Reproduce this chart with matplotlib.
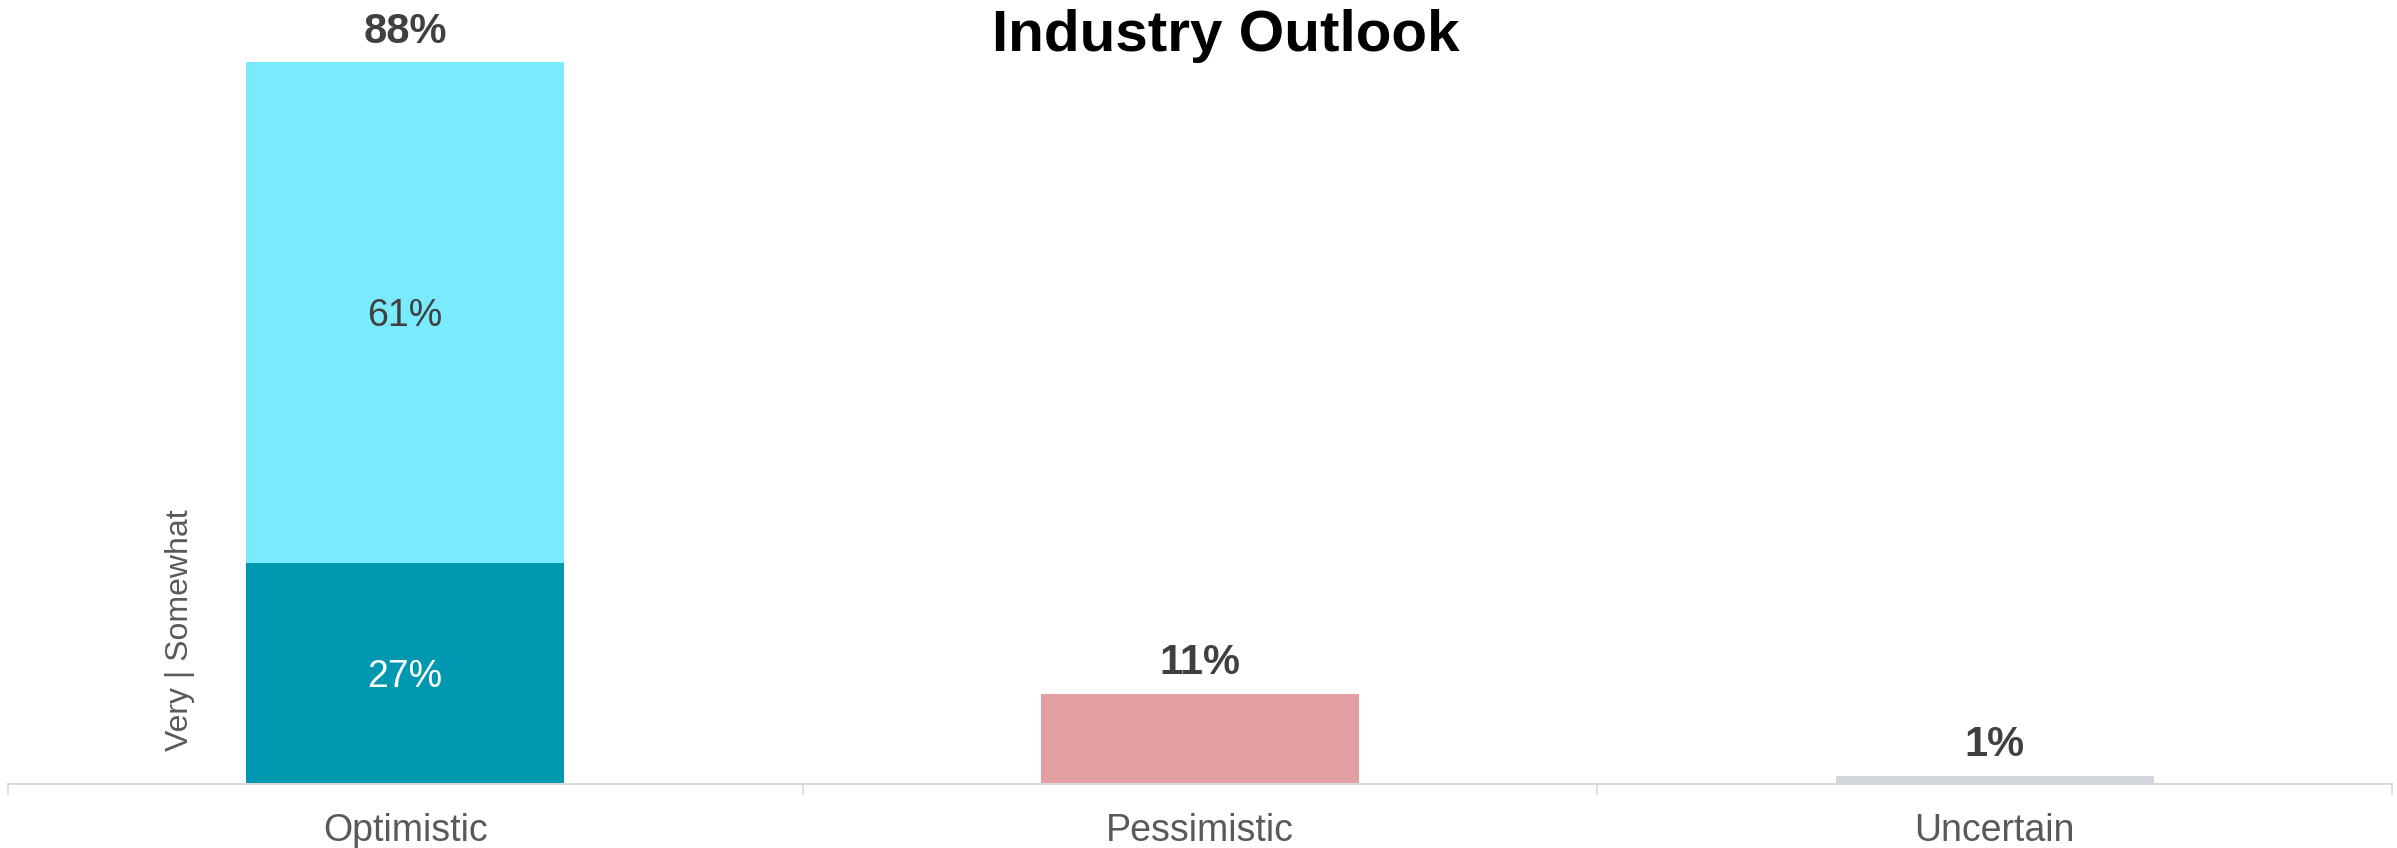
import matplotlib
matplotlib.use("Agg")
import matplotlib.pyplot as plt
from matplotlib.ticker import FixedLocator

plt.rcParams["font.family"] = ["Liberation Sans", "DejaVu Sans"]

categories = ["Optimistic", "Pessimistic", "Uncertain"]
very = [27, 11, 1]          # bottom segment (or whole bar for single-segment categories)
somewhat = [61, 0, 0]       # stacked segment on top
totals = [88, 11, 1]

very_colors = ["#0097B0", "#E3A0A3", "#D3D6DB"]
somewhat_color = "#7AEBFF"
text_dark = "#404040"
text_gray = "#595959"
axis_gray = "#D9D9D9"

fig = plt.figure(figsize=(23.97, 8.48), dpi=100)
ax = fig.add_axes([0.0032, 0.0755, 0.9948, 0.9245])

x = list(range(len(categories)))
ax.bar(x, very, width=0.4, color=very_colors, zorder=2)
ax.bar(x[:1], somewhat[:1], bottom=very[:1], width=0.4, color=somewhat_color, zorder=2)

ax.set_xlim(-0.5, 2.5)
ax.set_ylim(0, 95.6)

# segment labels inside the stacked bar
ax.text(0, very[0] / 2, f"{very[0]}%", ha="center", va="center_baseline",
        fontsize=27, color="white")
ax.text(0, very[0] + somewhat[0] / 2, f"{somewhat[0]}%", ha="center",
        va="center_baseline", fontsize=27, color=text_dark)

# totals above each bar
for xi, t in zip(x, totals):
    ax.annotate(f"{t}%", (xi, t), xytext=(0, 14), textcoords="offset points",
                ha="center", va="baseline", fontsize=30, fontweight="bold",
                color=text_dark)

ax.text(-0.283, 4.0, "Very | Somewhat", rotation=90, ha="center", va="bottom",
        fontsize=23, color=text_gray)

for side in ["left", "right", "top"]:
    ax.spines[side].set_visible(False)
ax.spines["bottom"].set_color(axis_gray)
ax.spines["bottom"].set_linewidth(1.5)

ax.set_yticks([])
ax.set_xticks(x)
ax.set_xticklabels(categories, fontsize=27, color=text_gray)
ax.tick_params(axis="x", which="major", length=0, pad=21)
ax.xaxis.set_minor_locator(FixedLocator([-0.5, 0.5, 1.5, 2.5]))
ax.tick_params(axis="x", which="minor", length=8, width=1.2, color=axis_gray)

fig.text(0.5115, 0.94, "Industry Outlook", ha="center", va="baseline",
         fontsize=42, fontweight="bold", color="black")

fig.savefig("out.png", dpi=100)
